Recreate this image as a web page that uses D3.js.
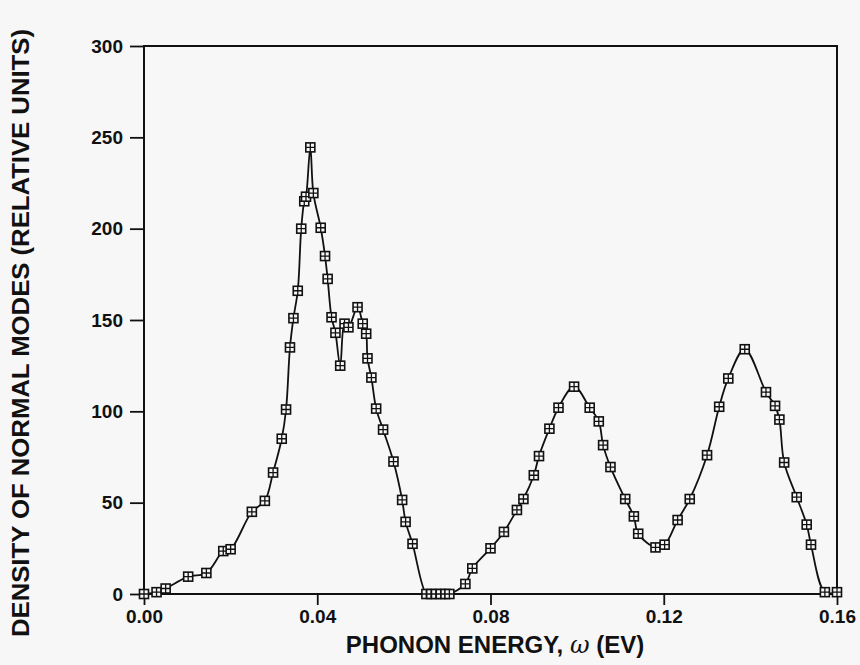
<!DOCTYPE html>
<html>
<head>
<meta charset="utf-8">
<script src="https://cdn.jsdelivr.net/npm/d3@7"></script>
<style>
  html, body { margin: 0; padding: 0; background: #f7f7f7; }
  svg { display: block; }
  text { font-family: "Liberation Sans", Arial, sans-serif; font-weight: bold; fill: #111; }
</style>
</head>
<body>
<svg id="chart" width="860" height="665"></svg>
<script>
// Phonon energy (eV)
const energy = [
  0.0000, 0.0029, 0.0050, 0.0102, 0.0144, 0.0183, 0.0200, 0.0249, 0.0279, 0.0298,
  0.0318, 0.0328, 0.0337, 0.0345, 0.0355, 0.0363, 0.0370, 0.0374, 0.0384, 0.0391,
  0.0408, 0.0418, 0.0424, 0.0433, 0.0442, 0.0453, 0.0463, 0.0472, 0.0493, 0.0505,
  0.0513, 0.0516, 0.0525, 0.0536, 0.0552, 0.0576, 0.0596, 0.0604, 0.0620, 0.0652,
  0.0663, 0.0674, 0.0685, 0.0696, 0.0705, 0.0742, 0.0758, 0.0800, 0.0831, 0.0861,
  0.0876, 0.0900, 0.0912, 0.0936, 0.0957, 0.0993, 0.1029, 0.1050, 0.1060, 0.1077,
  0.1111, 0.1131, 0.1141, 0.1181, 0.1202, 0.1232, 0.1260, 0.1300, 0.1328, 0.1349,
  0.1387, 0.1436, 0.1457, 0.1467, 0.1478, 0.1507, 0.1530, 0.1540, 0.1572, 0.1600
];
// Density of normal modes (relative units)
const density = [
  0, 1, 3, 9.5, 11.5, 23.5, 24.5, 45, 51, 66.5,
  85, 101, 135, 151, 166, 200, 215, 217.5, 244.5, 219.5,
  200.5, 185, 172.5, 151.5, 143, 125, 148, 146, 157, 148,
  142.5, 129, 118.5, 101.5, 90, 72.5, 51.5, 39.5, 27.5, 0,
  0, 0, 0, 0, 0, 5.5, 14, 25, 34, 46,
  52, 65, 75.5, 90.5, 102, 113.5, 102, 94.5, 81.5, 69.5,
  52, 42.5, 33, 25.5, 27, 40.5, 52, 76, 102.5, 118,
  134, 110.5, 103, 95.5, 72, 53, 38, 27, 1, 1
];
const xTicks = [0, 0.04, 0.08, 0.12, 0.16];
const yTicks = [0, 50, 100, 150, 200, 250, 300];
const xTitle = "PHONON ENERGY, ";
const xTitleSym = "\u03C9";
const xTitleEnd = " (EV)";
const yTitle = "DENSITY OF NORMAL MODES (RELATIVE UNITS)";

const svg = d3.select("#chart");
const L = 144, R = 837, T = 46, B = 594;

const x = d3.scaleLinear().domain([0, 0.16]).range([L, R]);
const y = d3.scaleLinear().domain([0, 300]).range([B, T]);

// frame
svg.append("rect").attr("x", L).attr("y", T).attr("width", R - L).attr("height", B - T)
  .attr("fill", "none").attr("stroke", "#111").attr("stroke-width", 2);

// x axis
const xAxis = d3.axisBottom(x).tickValues(xTicks).tickFormat(d3.format(".2f"))
  .tickSize(11).tickPadding(5);
const gx = svg.append("g").attr("transform", `translate(0,${B})`).call(xAxis);
gx.select(".domain").remove();
gx.selectAll(".tick line").attr("stroke", "#111").attr("stroke-width", 1.8);
gx.selectAll(".tick text").attr("font-size", 19).attr("font-family", "Liberation Sans, Arial, sans-serif")
  .attr("font-weight", "bold").attr("fill", "#111");

// y axis
const yAxis = d3.axisLeft(y).tickValues(yTicks).tickFormat(d3.format("d"))
  .tickSize(14).tickPadding(7);
const gy = svg.append("g").attr("transform", `translate(${L},0)`).call(yAxis);
gy.select(".domain").remove();
gy.selectAll(".tick line").attr("stroke", "#111").attr("stroke-width", 1.8);
gy.selectAll(".tick text").attr("font-size", 19).attr("font-family", "Liberation Sans, Arial, sans-serif")
  .attr("font-weight", "bold").attr("fill", "#111");

// curve
const pts = energy.map((e, i) => [e, density[i]]);
const line = d3.line().x(d => x(d[0])).y(d => y(d[1])).curve(d3.curveCatmullRom.alpha(0.5));
svg.append("path").datum(pts).attr("d", line)
  .attr("fill", "none").attr("stroke", "#111").attr("stroke-width", 1.8);

// markers: square with a cross
const s = 4.5;
const m = svg.append("g").selectAll("g").data(pts).join("g")
  .attr("transform", d => `translate(${x(d[0])},${y(d[1])})`);
m.append("rect").attr("x", -s).attr("y", -s).attr("width", 2 * s).attr("height", 2 * s)
  .attr("fill", "#f7f7f7").attr("stroke", "#111").attr("stroke-width", 1.6);
m.append("path").attr("d", `M${-s},0H${s}M0,${-s}V${s}`)
  .attr("stroke", "#111").attr("stroke-width", 1.3);

// x title
const xt = svg.append("text").attr("x", 495).attr("y", 653).attr("text-anchor", "middle")
  .attr("font-size", 24);
xt.append("tspan").text(xTitle);
xt.append("tspan").text(xTitleSym).attr("font-style", "italic").attr("font-weight", "normal")
  .attr("font-family", "DejaVu Serif, serif");
xt.append("tspan").text(xTitleEnd);

// y title
svg.append("text").attr("transform", "translate(29,333) rotate(-90)")
  .attr("text-anchor", "middle").attr("font-size", 24)
  .attr("textLength", 608).attr("lengthAdjust", "spacingAndGlyphs").text(yTitle);
</script>
</body>
</html>
